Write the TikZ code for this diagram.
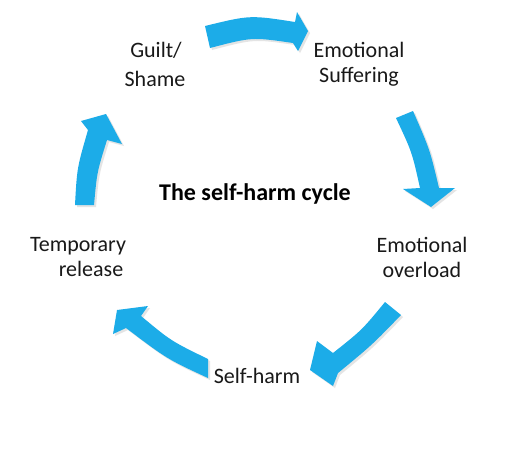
\documentclass[tikz,border=0pt]{standalone}
\usepackage{fontspec}
\setmainfont{Carlito}
\definecolor{arrowblue}{RGB}{28,172,232}
\definecolor{shadowgray}{RGB}{150,150,150}
\begin{document}
\begin{tikzpicture}[x=0.75pt,y=-0.75pt,
  lbl/.style={font=\fontsize{16.5pt}{20pt}\selectfont, anchor=base, inner sep=0pt, text=black!90},
  ttl/.style={font=\fontsize{18pt}{20pt}\selectfont\bfseries, anchor=base, inner sep=0pt, text=black},
  cycarrow/.style={fill=arrowblue},
  cycshadow/.style={fill=shadowgray, opacity=0.25, shift={(2,2)}},
  arrA/.style={insert path={(205,26) .. controls (250,15) .. (295,22) -- (297,12) -- (308,31) -- (298,51) -- (293,43) .. controls (252,37) .. (210,48) -- cycle}},
  arrB/.style={insert path={(396,118) -- (413,111) .. controls (430,150) .. (439,188) -- (455,188) -- (431,207) -- (403,189) -- (420,188) .. controls (412,152) .. (396,118) -- cycle}},
  arrC/.style={insert path={(385,302) .. controls (362,330) .. (333,353) -- (317,341) -- (310,370) -- (333,386) -- (338,373) .. controls (372,345) .. (401,315) -- cycle}},
  arrD/.style={insert path={(208,359) .. controls (171,341) .. (141,316) -- (148,306) -- (117,310) -- (113,334) -- (126,328) .. controls (167,359) .. (208,378) -- cycle}},
  arrE/.style={insert path={(75,205) -- (94,205) .. controls (97,172) .. (107,140) -- (122,144) -- (106,114) -- (81,121) -- (88,130) .. controls (77,168) .. (75,205) -- cycle}}
]
\useasboundingbox (0,0) rectangle (518,451);
\fill[white] (0,0) rectangle (518,451);
% arrow shadows
\path[cycshadow, arrA];
\path[cycshadow, arrB];
\path[cycshadow, arrC];
\path[cycshadow, arrD];
\path[cycshadow, arrE];
% arrows
\path[cycarrow, arrA];
\path[cycarrow, arrB];
\path[cycarrow, arrC];
\path[cycarrow, arrD];
\path[cycarrow, arrE];
% labels
\node[lbl] (guilt) at (156,57) {Guilt/};
\node[lbl] (shame) at (155,86) {Shame};
\node[lbl] (emo1) at (359,57) {Emotional};
\node[lbl] (suff) at (359,82) {Suffering};
\node[lbl] (emo2) at (422,252) {Emotional};
\node[lbl] (over) at (422,277) {overload};
\node[lbl] (selfharm) at (257,383) {Self-harm};
\node[lbl] (temp) at (78,251) {Temporary};
\node[lbl] (rel) at (91,276) {release};
\node[ttl] (title) at (255,200) {The self-harm cycle};
\end{tikzpicture}
\end{document}
